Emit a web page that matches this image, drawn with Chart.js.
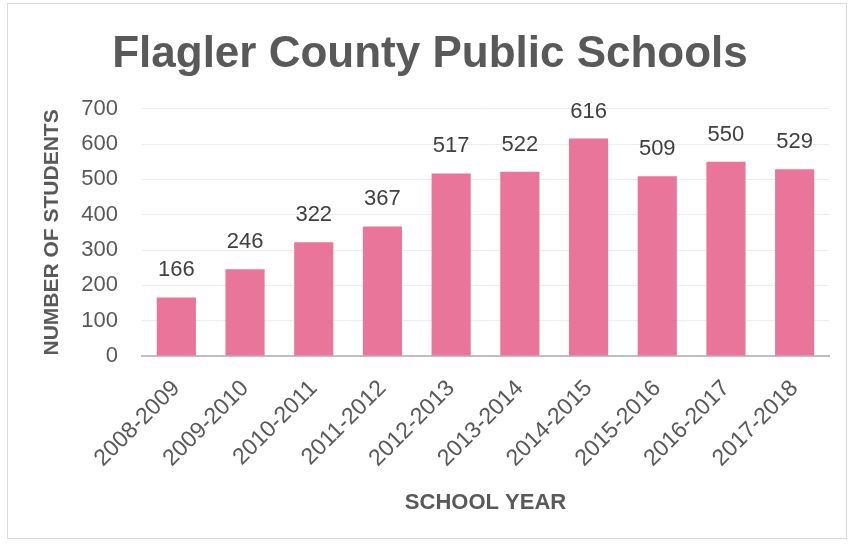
<!DOCTYPE html>
<html>
<head>
<meta charset="utf-8">
<script src="https://cdn.jsdelivr.net/npm/chart.js@4/dist/chart.umd.min.js"></script>
<style>
  html, body { margin: 0; padding: 0; background: #ffffff; }
  #wrap { position: relative; width: 850px; height: 545px; overflow: hidden; }
  #frame { position: absolute; left: 7px; top: 3px; width: 840px; height: 536px; border: 1px solid #d9d9d9; box-sizing: border-box; }
  canvas { position: absolute; left: 0; top: 0; }
</style>
</head>
<body>
<div id="wrap">
  <div id="frame"></div>
  <canvas id="c" width="850" height="545"></canvas>
</div>
<script>
const categories = ["2008-2009","2009-2010","2010-2011","2011-2012","2012-2013","2013-2014","2014-2015","2015-2016","2016-2017","2017-2018"];
const students = [166, 246, 322, 367, 517, 522, 616, 509, 550, 529];
const chartTitle = "Flagler County Public Schools";
const xTitle = "SCHOOL YEAR";
const yTitle = "NUMBER OF STUDENTS";

const FONT = "'Liberation Sans', Arial, sans-serif";

const dataLabels = {
  id: 'dataLabels',
  afterDatasetsDraw(chart) {
    const ctx = chart.ctx;
    const meta = chart.getDatasetMeta(0);
    ctx.save();
    ctx.font = "22px " + FONT;
    ctx.fillStyle = "#404040";
    ctx.textAlign = "center";
    ctx.textBaseline = "middle";
    meta.data.forEach((bar, i) => {
      ctx.fillText(String(chart.data.datasets[0].data[i]), bar.x, bar.y - 27);
    });
    ctx.restore();
  }
};

new Chart(document.getElementById('c'), {
  type: 'bar',
  data: {
    labels: categories,
    datasets: [{
      data: students,
      backgroundColor: 'rgb(233,118,154)',
      borderWidth: 0,
      categoryPercentage: 1,
      barPercentage: 0.57
    }]
  },
  options: {
    responsive: false,
    animation: false,
    devicePixelRatio: 1,
    layout: { padding: { left: 31, right: 21, top: 0, bottom: 0 } },
    plugins: {
      legend: { display: false },
      tooltip: { enabled: false },
      title: {
        display: true,
        text: chartTitle,
        color: '#595959',
        font: { family: FONT, size: 44, weight: 'bold', lineHeight: 1.2 },
        padding: { top: 28, bottom: 28 }
      }
    },
    scales: {
      x: {
        grid: { display: false, drawTicks: false },
        border: { display: true, color: '#bfbfbf', width: 2 },
        ticks: {
          color: '#595959',
          font: { family: FONT, size: 23 },
          minRotation: 45,
          maxRotation: 45,
          autoSkip: false,
          padding: 19
        },
        title: {
          display: true,
          text: xTitle,
          color: '#595959',
          font: { family: FONT, size: 22, weight: 'bold', lineHeight: 1.2 },
          padding: { top: 0, bottom: 29 }
        },
        afterFit(scale) { scale.height = 189; }
      },
      y: {
        min: 0,
        max: 700,
        ticks: {
          stepSize: 100,
          color: '#595959',
          font: { family: FONT, size: 22 },
          padding: 24
        },
        grid: { color: '#ececec', lineWidth: 1, drawTicks: false },
        border: { display: false },
        title: {
          display: true,
          text: yTitle,
          color: '#595959',
          font: { family: FONT, size: 21, weight: 'bold', lineHeight: 1.2 },
          padding: { top: 9, bottom: 0 }
        },
        afterFit(scale) { scale.width = 111; }
      }
    }
  },
  plugins: [dataLabels]
});
</script>
</body>
</html>
